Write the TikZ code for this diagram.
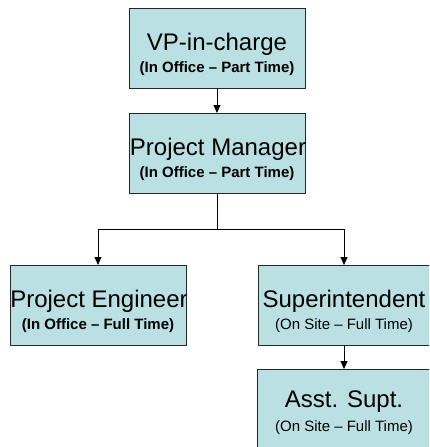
\documentclass[tikz,border=0pt]{standalone}
\usepackage{fontspec}
\setmainfont{Liberation Sans}
\usepackage{tikz}
\usetikzlibrary{arrows.meta}
\definecolor{boxfill}{RGB}{186,224,227}

\begin{document}
\begin{tikzpicture}[x=1pt,y=1pt,
    every node/.style={outer sep=0pt, inner sep=0pt},
    orgbox/.style={rectangle, draw=black!85, line width=1pt, fill=boxfill, minimum width=176pt, minimum height=80pt},
    bigtext/.style={anchor=base, font=\fontsize{24}{26}\selectfont},
    subbold/.style={anchor=base, font=\fontsize{15}{17}\selectfont\bfseries},
    subplain/.style={anchor=base, font=\fontsize{15}{17}\selectfont},
    conn/.style={line width=1pt, draw=black},
    tip/.style={-{Triangle[width=7pt,length=8pt]}}]
      \useasboundingbox (0,0) rectangle (429,-447);
      \clip (0,0) rectangle (429,-447);
      \node[orgbox] (vp) at (217,-48) {};
      \node[bigtext] (vpT) at (217,-50) {VP-in-charge};
      \node[subbold] (vpS) at (217,-72) {(In Office -- Part Time)};
      \node[orgbox] (pm) at (217,-153) {};
      \node[bigtext] (pmT) at (218,-155) {Project Manager};
      \node[subbold] (pmS) at (217,-177) {(In Office -- Part Time)};
      \node[orgbox] (pe) at (98,-305) {};
      \node[bigtext] (peT) at (99,-307) {Project Engineer};
      \node[subbold] (peS) at (98,-329) {(In Office -- Full Time)};
      \node[orgbox] (sup) at (346,-305) {};
      \node[bigtext] (supT) at (344,-307) {Superintendent};
      \node[subplain] (supS) at (344,-329) {(On Site -- Full Time)};
      \node[orgbox] (asst) at (345,-409) {};
      \node[bigtext] (asstT) at (344,-407) {Asst. Supt.};
      \node[subplain] (asstS) at (344,-431) {(On Site -- Full Time)};
      \coordinate (split) at (217,-229);
      \coordinate (supTop) at (344,-265);
      \coordinate (supBot) at (344,-346);
      \coordinate (asstTop) at (344,-369);
      \draw[conn,tip] (vp.south) -- (pm.north);
      \draw[conn] (pm.south) -- (split);
      \draw[conn,tip] (split) -| (pe.north);
      \draw[conn,tip] (split) -| (supTop);
      \draw[conn,tip] (supBot) -- (asstTop);
\end{tikzpicture}
\end{document}
